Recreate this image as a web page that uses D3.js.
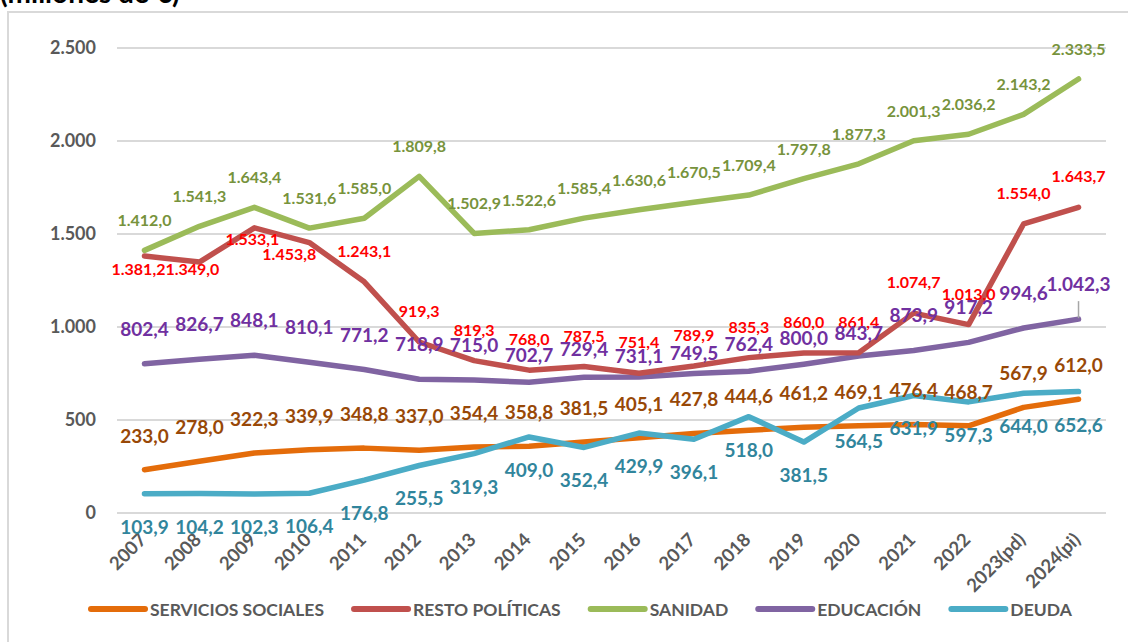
<!DOCTYPE html>
<html>
<head>
<meta charset="utf-8">
<script src="https://cdn.jsdelivr.net/npm/d3@7"></script>
<style>
  html, body { margin: 0; padding: 0; background: #fff; }
  svg { display: block; font-family: Lato, "Open Sans", sans-serif; font-weight: bold; }
</style>
</head>
<body>
<div id="chart"></div>
<script>
const years = ['2007', '2008', '2009', '2010', '2011', '2012', '2013', '2014', '2015',
  '2016', '2017', '2018', '2019', '2020', '2021', '2022', '2023(pd)', '2024(pi)'];

const serviciosSociales = [233.0, 278.0, 322.3, 339.9, 348.8, 337.0, 354.4, 358.8, 381.5,
  405.1, 427.8, 444.6, 461.2, 469.1, 476.4, 468.7, 567.9, 612.0];
const restoPoliticas = [1381.2, 1349.0, 1533.1, 1453.8, 1243.1, 919.3, 819.3, 768.0, 787.5,
  751.4, 789.9, 835.3, 860.0, 861.4, 1074.7, 1013.0, 1554.0, 1643.7];
const sanidad = [1412.0, 1541.3, 1643.4, 1531.6, 1585.0, 1809.8, 1502.9, 1522.6, 1585.4,
  1630.6, 1670.5, 1709.4, 1797.8, 1877.3, 2001.3, 2036.2, 2143.2, 2333.5];
const educacion = [802.4, 826.7, 848.1, 810.1, 771.2, 718.9, 715.0, 702.7, 729.4,
  731.1, 749.5, 762.4, 800.0, 843.7, 873.9, 917.2, 994.6, 1042.3];
const deuda = [103.9, 104.2, 102.3, 106.4, 176.8, 255.5, 319.3, 409.0, 352.4,
  429.9, 396.1, 518.0, 381.5, 564.5, 631.9, 597.3, 644.0, 652.6];

const yTicks = [0, 500, 1000, 1500, 2000, 2500];

// label tweaks where the original labels were dragged around
const nudges = {
  resto: { 0: [-6, 19], 1: [-7, 13], 2: [-2, 17], 3: [-20, 17] },
  educacion: { 7: [0, -20], 8: [0, -21], 9: [0, -14], 10: [0, -14], 11: [0, -20], 12: [0, -19], 13: [0, -16] }
};

const series = [
  { key: 'servicios', name: 'SERVICIOS SOCIALES', values: serviciosSociales, line: '#E46C0A', label: '#984807', size: 19, dy: -27 },
  { key: 'resto', name: 'RESTO POLÍTICAS', values: restoPoliticas, line: '#C0504D', label: '#FF0000', size: 16, dy: -25 },
  { key: 'sanidad', name: 'SANIDAD', values: sanidad, line: '#9BBB59', label: '#77933C', size: 16, dy: -24 },
  { key: 'educacion', name: 'EDUCACIÓN', values: educacion, line: '#8064A2', label: '#7030A0', size: 19, dy: -28 },
  { key: 'deuda', name: 'DEUDA', values: deuda, line: '#4BACC6', label: '#31859C', size: 19, dy: 40 }
];

const locale = d3.formatLocale({ decimal: ',', thousands: '.', grouping: [3], currency: ['', ' €'] });
const fmtTick = locale.format(',d');
const fmtVal = locale.format(',.1f');

const width = 1128, height = 642;
const svg = d3.select('#chart').append('svg')
  .attr('width', width)
  .attr('height', height);

// title, cut off by the top edge
svg.append('text')
  .attr('x', 0)
  .attr('y', 3)
  .attr('font-size', 28)
  .attr('fill', '#000')
  .text('(millones de €)');

// chart frame
svg.append('rect')
  .attr('x', 8).attr('y', 12)
  .attr('width', 1140).attr('height', 660)
  .attr('fill', 'none')
  .attr('stroke', '#D9D9D9')
  .attr('stroke-width', 2);

const x = d3.scaleBand().domain(years).range([117, 1106]).padding(0);
const cx = d => x(d) + x.bandwidth() / 2;
const y = d3.scaleLinear().domain([0, 2500]).range([513, 48]);

// gridlines
svg.append('g')
  .selectAll('line')
  .data(yTicks)
  .join('line')
  .attr('x1', 117).attr('x2', 1106)
  .attr('y1', d => y(d)).attr('y2', d => y(d))
  .attr('stroke', '#D9D9D9')
  .attr('stroke-width', 2);

// y axis
const yAxis = svg.append('g')
  .attr('transform', 'translate(100,0)')
  .call(d3.axisLeft(y).tickValues(yTicks).tickFormat(fmtTick).tickSize(0).tickPadding(4));
yAxis.select('.domain').remove();
yAxis.selectAll('text')
  .attr('font-family', 'Lato, sans-serif')
  .attr('font-weight', 'bold')
  .attr('font-size', 18)
  .attr('fill', '#595959');

// x axis labels, rotated
svg.append('g')
  .selectAll('text')
  .data(years)
  .join('text')
  .attr('transform', d => `translate(${cx(d) + 3},${541}) rotate(-45)`)
  .attr('text-anchor', 'end')
  .attr('font-size', 18.5)
  .attr('fill', '#595959')
  .text(d => d);

const line = d3.line()
  .x((d, i) => cx(years[i]))
  .y(d => y(d));

// draw order: deuda & servicios under, sanidad on top
const drawOrder = ['servicios', 'deuda', 'educacion', 'resto', 'sanidad'];
drawOrder.forEach(k => {
  const s = series.find(s => s.key === k);
  svg.append('path')
    .datum(s.values)
    .attr('d', line)
    .attr('fill', 'none')
    .attr('stroke', s.line)
    .attr('stroke-width', 5.5)
    .attr('stroke-linejoin', 'round')
    .attr('stroke-linecap', 'round');
});

// leader line for the last EDUCACIÓN label
svg.append('line')
  .attr('x1', cx(years[17])).attr('x2', cx(years[17]))
  .attr('y1', y(educacion[17]) - 18).attr('y2', y(educacion[17]) - 1)
  .attr('stroke', '#A6A6A6')
  .attr('stroke-width', 1.5);

// data labels
series.forEach(s => {
  const nd = nudges[s.key] || {};
  svg.append('g')
    .selectAll('text')
    .data(s.values)
    .join('text')
    .attr('x', (d, i) => cx(years[i]) + (nd[i] ? nd[i][0] : 0))
    .attr('y', (d, i) => y(d) + (nd[i] ? nd[i][1] : s.dy))
    .attr('text-anchor', 'middle')
    .attr('font-size', s.size)
    .attr('fill', s.label)
    .text(d => fmtVal(d));
});

// legend
const legend = svg.append('g').attr('transform', 'translate(88,609)');
let lx = 0;
series.forEach(s => {
  legend.append('line')
    .attr('x1', lx + 3).attr('x2', lx + 57)
    .attr('y1', 0).attr('y2', 0)
    .attr('stroke', s.line)
    .attr('stroke-width', 6)
    .attr('stroke-linecap', 'round');
  const t = legend.append('text')
    .attr('x', lx + 62)
    .attr('y', 6.5)
    .attr('font-size', 17.5)
    .attr('fill', '#595959')
    .text(s.name);
  lx += 62 + t.node().getComputedTextLength() + 27;
});
</script>
</body>
</html>
